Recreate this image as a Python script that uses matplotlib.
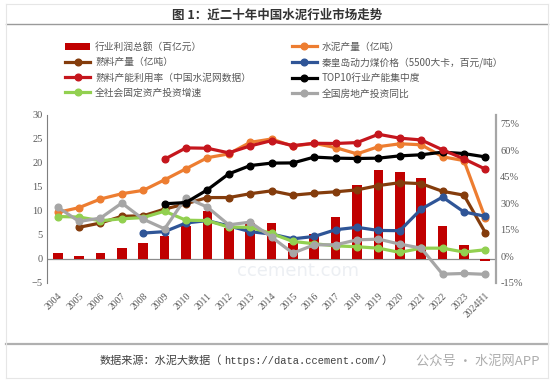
import numpy as np
import matplotlib.pyplot as plt
from matplotlib.lines import Line2D
from matplotlib.ticker import FuncFormatter

plt.rcParams['font.family'] = ['Noto Sans CJK SC', 'DejaVu Sans']

years = ['2004', '2005', '2006', '2007', '2008', '2009', '2010', '2011', '2012', '2013',
         '2014', '2015', '2016', '2017', '2018', '2019', '2020', '2021', '2022', '2023', '2024H1']

# left axis
profit = [1.2, 0.6, 1.3, 2.3, 3.3, 4.7, 6.9, 10.1, 6.4, 7.5,
          7.6, 3.4, 5.2, 8.7, 15.4, 18.6, 18.2, 16.8, 6.8, 3.0, -0.4]
cement = [9.7, 10.7, 12.5, 13.6, 14.3, 16.5, 18.8, 21.1, 21.9, 24.3,
          25.0, 23.5, 24.1, 23.2, 21.9, 23.4, 24.0, 23.8, 21.3, 20.5, 8.5]
clinker = [None, 6.6, 7.5, 8.9, 9.0, 10.4, 11.5, 12.8, 12.8, 13.6,
           14.2, 13.3, 13.7, 14.0, 14.4, 15.3, 15.9, 15.7, 14.1, 13.3, 5.5]
coal = [None, None, None, None, 5.4, 5.7, 7.5, 8.0, 6.9, 5.7,
        5.2, 4.2, 4.7, 6.1, 6.6, 5.95, 5.9, 10.4, 12.9, 9.8, 8.9]
# right axis (%)
util = [None, None, None, None, None, 55.0, 61.4, 61.2, 58.6, 62.5,
        65.5, 62.7, 64.0, 63.9, 64.4, 69.1, 66.9, 65.9, 60.3, 55.2, 49.4]
top10 = [None, None, None, None, None, 29.8, 30.5, 37.7, 46.7, 51.4,
         52.8, 52.9, 56.2, 55.6, 55.4, 55.6, 56.9, 57.5, 59.0, 58.2, 56.3]
fai = [22.6, 22.3, 20.2, 21.3, 22.0, 25.6, 20.5, 20.3, 16.6, 16.5,
       13.0, 8.5, 7.2, 6.0, 5.5, 4.7, 2.3, 4.7, 4.7, 2.5, 3.8]
realestate = [27.9, 19.8, 21.7, 30.2, 21.1, 15.6, 33.3, 27.9, 17.9, 19.4,
              11.0, 1.9, 6.6, 6.6, 9.4, 9.8, 7.0, 4.7, -10.0, -9.6, -10.1]


def arr(v):
    return np.array([np.nan if a is None else a for a in v], dtype=float)


x = np.arange(len(years))
fig = plt.figure(figsize=(5.54, 3.83), dpi=100)
ax = fig.add_axes([47/554, 1-283/383, 449/554, 168/383])
ax2 = ax.twinx()

serif = 'Liberation Serif'
tc = '#595959'
lw = 2.3
ms = 4.8

bars = ax.bar(x, profit, width=0.45, color='#C00000', zorder=1, label='行业利润总额（百亿元）')
ax.axhline(0, color='#8c8c8c', lw=0.9, zorder=0)

l_cem, = ax.plot(x, arr(cement), color='#ED7D31', lw=lw, marker='o', ms=ms, label='水泥产量（亿吨）', zorder=3)
l_cli, = ax.plot(x, arr(clinker), color='#843C0C', lw=lw, marker='o', ms=ms, label='熟料产量（亿吨）', zorder=3)
l_coal, = ax.plot(x, arr(coal), color='#2F5597', lw=lw, marker='o', ms=ms, label='秦皇岛动力煤价格（5500大卡，百元/吨）', zorder=3)

l_fai, = ax2.plot(x, arr(fai), color='#92D050', lw=lw, marker='o', ms=ms, label='全社会固定资产投资增速')
l_re, = ax2.plot(x, arr(realestate), color='#A6A6A6', lw=lw, marker='o', ms=ms, label='全国房地产投资同比')
l_top, = ax2.plot(x, arr(top10), color='#000000', lw=lw, marker='o', ms=ms, label='TOP10行业产能集中度')
l_util, = ax2.plot(x, arr(util), color='#C5161D', lw=lw, marker='o', ms=ms, label='熟料产能利用率（中国水泥网数据）')

ax.set_xlim(-0.5, len(years)-0.5)
ax.set_ylim(-5, 30)
ax.set_yticks(range(-5, 31, 5))
ax2.set_ylim(-15, 80)
ax2.set_yticks(range(-15, 76, 15))
ax2.yaxis.set_major_formatter(FuncFormatter(lambda v, p: f'{v:.0f}%'))

ax.set_xticks(x)
ax.set_xticklabels(years, rotation=45, ha='right', rotation_mode='anchor')

for a in (ax, ax2):
    a.tick_params(length=0, labelsize=7.5, labelcolor=tc, pad=3)
    for lab in a.get_xticklabels() + a.get_yticklabels():
        lab.set_family(serif)
    for s in ('top', 'bottom'):
        a.spines[s].set_visible(False)
    a.patch.set_visible(False)
ax.tick_params(axis='x', pad=6, labelsize=7)
ax.spines['right'].set_visible(False)
ax.spines['left'].set_color('#7f7f7f')
ax2.spines['left'].set_visible(False)
ax2.spines['right'].set_color('#a6a6a6')
ax2.spines['right'].set_linewidth(1.6)
ax.set_zorder(1)
ax2.set_zorder(2)

# faint watermark
ax.text(0.56, 0.07, 'ccement.com', transform=ax.transAxes, fontsize=13, color='#eceff3',
        ha='center', va='center', zorder=0, family='DejaVu Sans')

handles = [bars, l_cli, l_util, l_fai, l_cem, l_coal, l_top, l_re]
fig.legend(handles=handles, labels=[h.get_label() for h in handles], ncol=2,
           loc='upper left', bbox_to_anchor=(60/554, 1-37/383), frameon=False,
           fontsize=7, labelcolor=tc, handlelength=2.6, handletextpad=0.5,
           columnspacing=4.2, labelspacing=0.55, borderpad=0)

fig.text(0.5, 1-15/383, '图 1：近二十年中国水泥行业市场走势', ha='center', va='center',
         fontsize=9, fontweight='bold', color='#333333')

# frame lines
for y, c, w in [(4, '#e6e6e6', 0.8), (24, '#9a9a9a', 1.0), (344, '#b0b0b0', 1.6), (378, '#e6e6e6', 0.8)]:
    fig.add_artist(Line2D([6/554, 548/554], [1-y/383, 1-y/383], color=c, lw=w))
for xx in (6, 548):
    fig.add_artist(Line2D([xx/554, xx/554], [1-4/383, 1-378/383], color='#e6e6e6', lw=0.8))

ys = 1-361/383
fig.text(100/554, ys, '数据来源：水泥大数据（', ha='left', va='center', fontsize=8, color='#404040')
fig.text(224/554, ys, 'https://data.ccement.com/', ha='left', va='center', fontsize=7.5,
         color='#404040', family='Liberation Mono')
fig.text(381/554, ys, '）', ha='left', va='center', fontsize=8, color='#404040')
fig.text(416/554, ys, '公众号 · 水泥网APP', ha='left', va='center', fontsize=9.5, color='#9e9e9e', alpha=0.85)

fig.savefig('out.png', dpi=100)
